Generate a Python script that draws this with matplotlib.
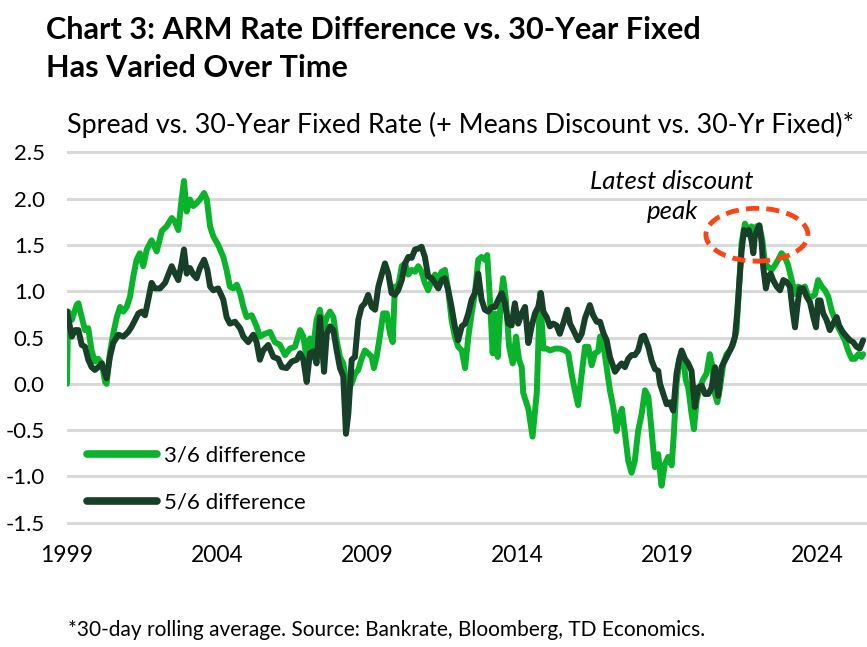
import matplotlib
matplotlib.use("Agg")
import matplotlib.pyplot as plt
from matplotlib.patches import Ellipse

# ---------------- data (decimal years, spread in %-pts) ----------------
years_36 = [1999.00, 1999.04, 1999.16, 1999.32, 1999.38, 1999.49, 1999.60, 1999.71, 1999.82,
            1999.93, 2000.04, 2000.16, 2000.27, 2000.32, 2000.43, 2000.54, 2000.66, 2000.77,
            2000.88, 2000.99, 2001.10, 2001.21, 2001.32, 2001.43, 2001.54, 2001.66, 2001.82,
            2001.99, 2002.16, 2002.32, 2002.49, 2002.60, 2002.71, 2002.82, 2002.90, 2002.99,
            2003.10, 2003.21, 2003.32, 2003.43, 2003.57, 2003.66, 2003.77, 2003.88, 2004.04,
            2004.21, 2004.32, 2004.43, 2004.54, 2004.66, 2004.77, 2004.88, 2004.99, 2005.16,
            2005.32, 2005.43, 2005.60, 2005.77, 2005.93, 2006.10, 2006.27, 2006.43, 2006.60,
            2006.77, 2006.88, 2006.99, 2007.10, 2007.21, 2007.32, 2007.43, 2007.54, 2007.66,
            2007.77, 2007.88, 2007.99, 2008.10, 2008.21, 2008.30, 2008.38, 2008.49, 2008.60,
            2008.71, 2008.82, 2008.93, 2009.04, 2009.16, 2009.23, 2009.32, 2009.43, 2009.54,
            2009.66, 2009.77, 2009.86, 2009.93, 2010.04, 2010.16, 2010.27, 2010.38, 2010.49,
            2010.60, 2010.71, 2010.82, 2010.93, 2011.04, 2011.16, 2011.27, 2011.38, 2011.49,
            2011.60, 2011.71, 2011.82, 2011.93, 2012.04, 2012.16, 2012.27, 2012.38, 2012.49,
            2012.60, 2012.71, 2012.82, 2012.93, 2013.01, 2013.10, 2013.19, 2013.27, 2013.36,
            2013.46, 2013.54, 2013.63, 2013.74, 2013.86, 2013.97, 2014.07, 2014.16, 2014.21,
            2014.38, 2014.52, 2014.66, 2014.77, 2014.88, 2014.99, 2015.10, 2015.27, 2015.43,
            2015.60, 2015.71, 2015.82, 2015.93, 2016.04, 2016.16, 2016.27, 2016.38, 2016.49,
            2016.60, 2016.71, 2016.77, 2016.88, 2016.99, 2017.10, 2017.21, 2017.32, 2017.41,
            2017.50, 2017.60, 2017.71, 2017.82, 2017.93, 2018.04, 2018.16, 2018.27, 2018.38,
            2018.49, 2018.60, 2018.71, 2018.82, 2018.93, 2019.04, 2019.16, 2019.23, 2019.32,
            2019.43, 2019.54, 2019.63, 2019.71, 2019.82, 2019.90, 2019.99, 2020.10, 2020.21,
            2020.32, 2020.43, 2020.52, 2020.60, 2020.68, 2020.77, 2020.88, 2020.99, 2021.10,
            2021.21, 2021.32, 2021.41, 2021.49, 2021.60, 2021.71, 2021.82, 2021.90, 2021.99,
            2022.08, 2022.18, 2022.27, 2022.38, 2022.49, 2022.60, 2022.71, 2022.82, 2022.93,
            2023.04, 2023.16, 2023.27, 2023.38, 2023.49, 2023.60, 2023.71, 2023.82, 2023.93,
            2024.04, 2024.16, 2024.27, 2024.38, 2024.49, 2024.60, 2024.71, 2024.82, 2024.93,
            2025.04, 2025.16, 2025.27, 2025.38, 2025.49, 2025.54]
vals_36 = [0.00, 0.78, 0.69, 0.85, 0.87, 0.72, 0.58, 0.60, 0.36,
           0.24, 0.27, 0.22, 0.02, 0.00, 0.33, 0.54, 0.72, 0.83,
           0.78, 0.83, 0.94, 1.16, 1.34, 1.41, 1.27, 1.45, 1.55,
           1.43, 1.65, 1.70, 1.79, 1.75, 1.66, 1.99, 2.19, 1.86,
           1.99, 1.92, 1.95, 1.99, 2.06, 1.99, 1.70, 1.59, 1.50,
           1.37, 1.23, 1.05, 1.03, 1.07, 0.98, 0.83, 0.72, 0.74,
           0.62, 0.51, 0.54, 0.56, 0.45, 0.42, 0.31, 0.38, 0.40,
           0.58, 0.51, 0.27, 0.49, 0.40, 0.69, 0.80, 0.58, 0.72,
           0.78, 0.72, 0.47, 0.29, 0.22, 0.04, -0.03, 0.00, 0.11,
           0.15, 0.27, 0.36, 0.33, 0.29, 0.17, 0.29, 0.51, 0.76,
           0.76, 0.54, 0.45, 1.05, 1.05, 1.27, 1.30, 1.18, 1.23,
           1.21, 1.27, 1.21, 1.09, 1.01, 1.12, 1.18, 1.14, 1.21,
           1.23, 1.01, 0.69, 0.51, 0.40, 0.36, 0.17, 0.51, 0.76,
           0.98, 1.34, 1.37, 1.34, 1.39, 0.91, 0.33, 0.76, 0.29,
           0.91, 1.14, 0.91, 0.40, 0.22, 0.51, 0.26, 0.18, -0.10,
           -0.27, -0.57, -0.10, 0.98, 0.38, 0.38, 0.36, 0.38, 0.38,
           0.36, 0.33, 0.11, -0.07, -0.23, 0.11, 0.40, 0.40, 0.20,
           0.33, 0.35, 0.51, 0.43, 0.18, -0.07, -0.25, -0.51, -0.36,
           -0.27, -0.54, -0.83, -0.96, -0.83, -0.51, -0.32, -0.07, -0.14,
           -0.51, -0.90, -0.76, -1.10, -0.87, -0.79, -0.88, -0.54, 0.00,
           0.29, 0.29, 0.04, -0.04, -0.32, -0.49, -0.18, -0.04, 0.05,
           0.11, 0.32, 0.18, -0.11, -0.20, -0.04, 0.22, 0.32, 0.36,
           0.43, 0.58, 1.08, 1.52, 1.73, 1.66, 1.70, 1.62, 1.70,
           1.71, 1.55, 1.30, 1.26, 1.23, 1.28, 1.34, 1.41, 1.37,
           1.28, 1.12, 0.97, 1.05, 1.03, 1.05, 0.94, 0.94, 0.96,
           1.12, 1.05, 1.01, 0.94, 0.79, 0.70, 0.61, 0.54, 0.47,
           0.36, 0.27, 0.27, 0.32, 0.29, 0.32]

years_56 = [1999.00, 1999.16, 1999.27, 1999.38, 1999.49, 1999.60, 1999.71, 1999.82, 1999.93,
            2000.04, 2000.16, 2000.27, 2000.32, 2000.43, 2000.54, 2000.71, 2000.88, 2001.04,
            2001.16, 2001.27, 2001.38, 2001.49, 2001.60, 2001.71, 2001.82, 2001.93, 2002.10,
            2002.27, 2002.38, 2002.49, 2002.60, 2002.71, 2002.82, 2002.90, 2002.99, 2003.10,
            2003.21, 2003.32, 2003.43, 2003.57, 2003.68, 2003.77, 2003.88, 2004.04, 2004.21,
            2004.32, 2004.43, 2004.60, 2004.77, 2004.88, 2005.04, 2005.21, 2005.32, 2005.43,
            2005.54, 2005.71, 2005.88, 2006.04, 2006.16, 2006.32, 2006.49, 2006.66, 2006.77,
            2006.88, 2006.99, 2007.10, 2007.21, 2007.32, 2007.43, 2007.57, 2007.66, 2007.77,
            2007.88, 2007.99, 2008.10, 2008.21, 2008.30, 2008.38, 2008.49, 2008.60, 2008.71,
            2008.82, 2008.93, 2009.04, 2009.16, 2009.27, 2009.38, 2009.49, 2009.60, 2009.71,
            2009.82, 2009.93, 2010.04, 2010.16, 2010.27, 2010.38, 2010.49, 2010.60, 2010.71,
            2010.82, 2010.93, 2011.04, 2011.16, 2011.27, 2011.38, 2011.49, 2011.60, 2011.71,
            2011.82, 2011.93, 2012.04, 2012.16, 2012.27, 2012.38, 2012.49, 2012.60, 2012.71,
            2012.82, 2012.93, 2013.04, 2013.16, 2013.27, 2013.38, 2013.49, 2013.60, 2013.71,
            2013.82, 2013.93, 2014.04, 2014.16, 2014.27, 2014.38, 2014.49, 2014.60, 2014.71,
            2014.80, 2014.88, 2014.99, 2015.10, 2015.21, 2015.32, 2015.43, 2015.54, 2015.68,
            2015.77, 2015.88, 2016.04, 2016.16, 2016.27, 2016.43, 2016.54, 2016.66, 2016.77,
            2016.88, 2016.99, 2017.10, 2017.27, 2017.38, 2017.49, 2017.60, 2017.71, 2017.82,
            2017.93, 2018.04, 2018.16, 2018.24, 2018.38, 2018.49, 2018.60, 2018.71, 2018.77,
            2018.88, 2018.99, 2019.10, 2019.21, 2019.32, 2019.40, 2019.49, 2019.60, 2019.71,
            2019.82, 2019.93, 2020.04, 2020.16, 2020.27, 2020.38, 2020.49, 2020.60, 2020.71,
            2020.82, 2020.93, 2021.04, 2021.16, 2021.27, 2021.34, 2021.41, 2021.49, 2021.57,
            2021.66, 2021.73, 2021.82, 2021.88, 2021.93, 2022.01, 2022.08, 2022.16, 2022.21,
            2022.30, 2022.38, 2022.46, 2022.54, 2022.66, 2022.77, 2022.88, 2022.99, 2023.10,
            2023.19, 2023.27, 2023.36, 2023.43, 2023.54, 2023.66, 2023.77, 2023.88, 2023.97,
            2024.04, 2024.12, 2024.21, 2024.32, 2024.43, 2024.54, 2024.66, 2024.74, 2024.86,
            2024.99, 2025.10, 2025.21, 2025.32, 2025.43, 2025.54]
vals_56 = [0.78, 0.51, 0.58, 0.58, 0.42, 0.40, 0.26, 0.18, 0.15,
           0.18, 0.22, 0.11, 0.06, 0.29, 0.44, 0.53, 0.51, 0.56,
           0.62, 0.69, 0.76, 0.78, 0.74, 0.91, 1.09, 1.03, 1.03,
           1.09, 1.18, 1.27, 1.19, 1.12, 1.30, 1.45, 1.19, 1.25,
           1.18, 1.14, 1.25, 1.34, 1.23, 1.05, 1.01, 1.03, 0.91,
           0.72, 0.65, 0.67, 0.60, 0.51, 0.45, 0.53, 0.45, 0.26,
           0.36, 0.42, 0.29, 0.27, 0.18, 0.17, 0.24, 0.26, 0.33,
           0.26, 0.02, 0.33, 0.35, 0.22, 0.72, 0.13, 0.54, 0.62,
           0.58, 0.36, 0.17, 0.08, -0.54, -0.32, 0.26, 0.29, 0.69,
           0.83, 0.87, 0.96, 0.83, 0.80, 1.05, 1.18, 1.30, 1.19,
           0.98, 0.96, 1.01, 1.12, 1.30, 1.37, 1.36, 1.45, 1.46,
           1.48, 1.37, 1.16, 1.14, 1.09, 1.03, 1.12, 1.14, 1.01,
           0.83, 0.62, 0.47, 0.62, 0.65, 0.76, 0.91, 0.98, 1.19,
           0.91, 0.80, 0.78, 0.83, 0.83, 0.91, 0.98, 0.87, 0.65,
           0.63, 0.87, 0.65, 0.76, 0.83, 0.44, 0.62, 0.76, 0.83,
           0.98, 0.78, 0.72, 0.62, 0.65, 0.63, 0.54, 0.65, 0.80,
           0.65, 0.58, 0.47, 0.54, 0.71, 0.85, 0.74, 0.67, 0.67,
           0.55, 0.47, 0.29, 0.13, 0.18, 0.22, 0.18, 0.27, 0.31,
           0.31, 0.36, 0.51, 0.52, 0.40, 0.25, 0.16, 0.14, 0.00,
           -0.11, -0.22, -0.20, -0.29, 0.11, 0.25, 0.36, 0.27, 0.22,
           0.14, -0.25, -0.04, -0.02, -0.11, -0.11, -0.04, 0.18, -0.13,
           0.18, 0.25, 0.32, 0.40, 0.51, 0.76, 1.08, 1.44, 1.66,
           1.62, 1.66, 1.55, 1.41, 1.59, 1.66, 1.71, 1.52, 1.26,
           1.03, 1.16, 1.19, 1.12, 1.05, 1.01, 1.12, 1.10, 1.05,
           0.79, 0.61, 0.87, 1.03, 1.03, 0.94, 0.88, 0.72, 0.61,
           0.90, 0.90, 0.76, 0.69, 0.58, 0.65, 0.72, 0.63, 0.56,
           0.51, 0.47, 0.45, 0.40, 0.38, 0.47]

x_ticks = [1999, 2004, 2009, 2014, 2019, 2024]
y_ticks = [-1.5, -1.0, -0.5, 0.0, 0.5, 1.0, 1.5, 2.0, 2.5]
label_36 = "3/6 difference"
label_56 = "5/6 difference"

# ---------------- styling ----------------
LIGHT = "#0BB22B"
DARK = "#183F27"
GRID = "#D9D9D9"
RED = "#FA4616"
plt.rcParams['font.family'] = ['Lato', 'DejaVu Sans']

fig = plt.figure(figsize=(8.67, 6.47), dpi=100)
ax = fig.add_axes([67 / 867, 0.18496, 800 / 867, 0.77176 - 0.18496])

ax.plot(years_36, vals_36, color=LIGHT, lw=4.3, solid_joinstyle='round',
        solid_capstyle='round', label=label_36, zorder=3)
ax.plot(years_56, vals_56, color=DARK, lw=4.3, solid_joinstyle='round',
        solid_capstyle='round', label=label_56, zorder=4)

ax.set_xlim(1999.0, 2025.67)
ax.set_ylim(-1.55, 2.55)
ax.set_xticks(x_ticks)
ax.set_xticklabels([str(t) for t in x_ticks])
ax.set_yticks(y_ticks)
ax.set_yticklabels([f"{t:.1f}" for t in y_ticks])
ax.tick_params(axis='both', length=0, colors='black')
ax.tick_params(axis='x', labelsize=16.5, pad=13)
ax.tick_params(axis='y', labelsize=16, pad=16)
ax.grid(axis='y', color=GRID, lw=2.2, zorder=0)
ax.set_axisbelow(True)
for s in ax.spines.values():
    s.set_visible(False)

leg = ax.legend(loc='upper left', bbox_to_anchor=(0.014, 0.238), frameon=False,
                fontsize=16, handlelength=3.15, handletextpad=0.32, labelspacing=1.22,
                borderaxespad=0)
for h in leg.get_lines():
    h.set_linewidth(5.5)

ell = Ellipse((2022.0, 1.61), 3.4, 0.57, fill=False, edgecolor=RED, lw=3.5,
              linestyle=(0, (2.7, 1.5)), zorder=5)
ax.add_patch(ell)
ax.text(2019.17, 2.19, "Latest discount", ha='center', va='center',
        fontsize=18.5, style='italic', zorder=6)
ax.text(2019.17, 1.865, "peak", ha='center', va='center',
        fontsize=18.5, style='italic', zorder=6)

fig.text(46 / 867, 1 - 30 / 647, "Chart 3: ARM Rate Difference vs. 30-Year Fixed",
         ha='left', va='center', fontsize=22.1, fontweight='bold')
fig.text(46 / 867, 1 - 68 / 647, "Has Varied Over Time",
         ha='left', va='center', fontsize=22.1, fontweight='bold')
fig.text(67 / 867, 1 - 125 / 647,
         "Spread vs. 30-Year Fixed Rate (+ Means Discount vs. 30-Yr Fixed)*",
         ha='left', va='center', fontsize=19.4)
fig.text(68 / 867, 1 - 630 / 647,
         "*30-day rolling average. Source: Bankrate, Bloomberg, TD Economics.",
         ha='left', va='center', fontsize=15)

fig.savefig("out.png", dpi=100)
